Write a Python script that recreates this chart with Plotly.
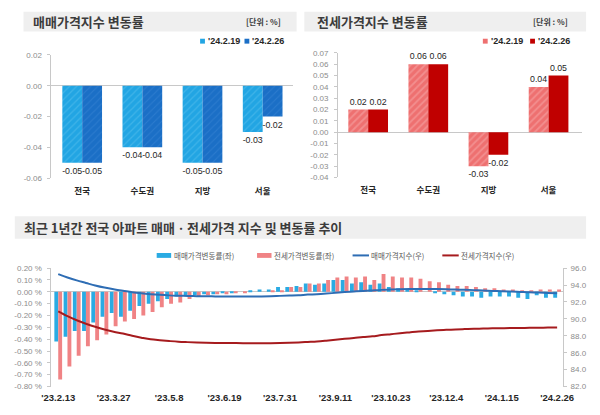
import plotly.graph_objects as go
import pandas as pd

# ---------------- data ----------------
regions = ["전국", "수도권", "지방", "서울"]
series_names = ["'24.2.19", "'24.2.26"]
sale_prev = [-0.05, -0.04, -0.05, -0.03]
sale_curr = [-0.05, -0.04, -0.05, -0.02]
jeonse_prev = [0.02, 0.06, -0.03, 0.04]
jeonse_curr = [0.02, 0.06, -0.02, 0.05]

weeks = pd.date_range("2023-02-13", "2024-02-26", freq="7D")
sale_rate = [-0.42, -0.38, -0.33, -0.33, -0.26, -0.21, -0.18, -0.21, -0.16, -0.12,
             -0.10, -0.08, -0.06, -0.04, -0.03, -0.03, -0.02, -0.02, -0.01, -0.01,
             0.00, 0.01, 0.02, 0.02, 0.04, 0.04, 0.05, 0.07, 0.06, 0.07,
             0.10, 0.10, 0.07, 0.08, 0.06, 0.07, 0.04, 0.03, 0.02, 0.01,
             0.00, -0.01, -0.02, -0.03, -0.04, -0.04, -0.05, -0.04, -0.04, -0.04,
             -0.05, -0.06, -0.03, -0.05, -0.05]
jeonse_rate = [-0.74, -0.63, -0.54, -0.46, -0.41, -0.36, -0.29, -0.25, -0.23, -0.20,
               -0.17, -0.13, -0.10, -0.09, -0.06, -0.04, -0.03, -0.02, -0.02, -0.01,
               -0.01, 0.00, 0.00, 0.01, 0.01, 0.04, 0.04, 0.07, 0.07, 0.10,
               0.12, 0.13, 0.12, 0.13, 0.10, 0.15, 0.13, 0.12, 0.12, 0.11,
               0.09, 0.08, 0.06, 0.05, 0.05, 0.04, 0.03, 0.03, 0.02, 0.02,
               0.01, 0.01, 0.02, 0.02, 0.02]
sale_index = [95.30, 94.90, 94.55, 94.25, 93.95, 93.70, 93.50, 93.33, 93.15, 93.02,
              92.92, 92.84, 92.78, 92.74, 92.71, 92.69, 92.67, 92.66, 92.65, 92.64,
              92.64, 92.65, 92.66, 92.68, 92.72, 92.76, 92.80, 92.87, 92.92, 92.99,
              93.08, 93.17, 93.24, 93.31, 93.37, 93.43, 93.47, 93.50, 93.52, 93.53,
              93.53, 93.52, 93.50, 93.47, 93.44, 93.40, 93.35, 93.31, 93.28, 93.24,
              93.19, 93.14, 93.11, 93.06, 93.02]
jeonse_index = [90.90, 90.33, 89.84, 89.43, 89.06, 88.74, 88.48, 88.26, 88.01, 87.78,
                87.58, 87.47, 87.38, 87.30, 87.25, 87.21, 87.18, 87.16, 87.15, 87.14,
                87.13, 87.13, 87.13, 87.13, 87.14, 87.17, 87.21, 87.27, 87.33, 87.42,
                87.52, 87.64, 87.74, 87.86, 87.94, 88.08, 88.19, 88.30, 88.40, 88.50,
                88.58, 88.65, 88.70, 88.75, 88.79, 88.83, 88.85, 88.88, 88.90, 88.92,
                88.93, 88.94, 88.96, 88.97, 88.99]

left_ticks_top = [0.02, 0.00, -0.02, -0.04, -0.06]
right_ticks_top = [0.07, 0.06, 0.05, 0.04, 0.03, 0.02, 0.01, 0.00, -0.01, -0.02, -0.03, -0.04]
rate_ticks = [0.20, 0.10, 0.00, -0.10, -0.20, -0.30, -0.40, -0.50, -0.60, -0.70, -0.80]
index_ticks = [82, 84, 86, 88, 90, 92, 94, 96]
legend_bottom = ["매매가격변동률(좌)", "전세가격변동률(좌)", "매매가격지수(우)", "전세가격지수(우)"]
titles = ["매매가격지수 변동률", "전세가격지수 변동률",
          "최근 1년간 전국 아파트 매매ㆍ전세가격 지수 및 변동률 추이"]
unit_text = "[단위 : %]"

# ---------------- style ----------------
W, H = 600, 415
FONT = "Liberation Sans, Noto Sans CJK KR, sans-serif"
KFONT = "Noto Sans CJK KR, sans-serif"
C_LBLUE, C_LBLUE_FG = "#22a5e3", "#5cc2ee"
C_DBLUE, C_DBLUE_FG = "#1b6fc6", "#3d88d6"
C_PINK, C_PINK_FG = "#ee7070", "#f7abab"
C_RED = "#c00000"
C_BAR_B, C_BAR_P = "#2aabe3", "#f08385"
C_LINE_B, C_LINE_R = "#2e6db4", "#a61b1e"
AX = "#c8c8c8"
TICKC = "#8c8c8c"
LABC = "#1e1e1e"
LABSIZE = 8.8


def px(x):
    return x / W


def py(y):
    return 1 - y / H


fig = go.Figure()

bw = 0.33


def region_bar(y, name, xa, ya, off, color, fg=None, solidity=0.25):
    marker = dict(color=color, line=dict(width=0))
    if fg:
        marker["pattern"] = dict(shape="/", bgcolor=color, fgcolor=fg, size=5, solidity=solidity)
    return go.Bar(x=regions, y=y, name=name, xaxis=xa, yaxis=ya, width=bw, offset=off,
                  marker=marker, text=[f"{v:.2f}" for v in y], textposition="outside",
                  textfont=dict(size=LABSIZE, color=LABC, family=FONT),
                  cliponaxis=False, constraintext="none", showlegend=False)


fig.add_trace(region_bar(sale_prev, series_names[0], "x", "y", -bw, C_LBLUE, C_LBLUE_FG, 0.25))
fig.add_trace(region_bar(sale_curr, series_names[1], "x", "y", 0, C_DBLUE, C_DBLUE_FG, 0.2))
fig.add_trace(region_bar(jeonse_prev, series_names[0], "x2", "y2", -bw, C_PINK, C_PINK_FG, 0.35))
fig.add_trace(region_bar(jeonse_curr, series_names[1], "x2", "y2", 0, C_RED))

# ---- bottom bars & lines
WEEK_MS = 7 * 24 * 3600 * 1000
bbw = 0.42 * WEEK_MS
fig.add_trace(go.Bar(x=weeks, y=sale_rate, name=legend_bottom[0], xaxis="x3", yaxis="y3",
                     width=bbw, offset=-bbw, marker=dict(color=C_BAR_B, line=dict(width=0)),
                     showlegend=False))
fig.add_trace(go.Bar(x=weeks, y=jeonse_rate, name=legend_bottom[1], xaxis="x3", yaxis="y3",
                     width=bbw, offset=0, marker=dict(color=C_BAR_P, line=dict(width=0)),
                     showlegend=False))
fig.add_trace(go.Scatter(x=weeks, y=sale_index, name=legend_bottom[2], xaxis="x3", yaxis="y4",
                         mode="lines", line=dict(color=C_LINE_B, width=2, shape="spline"),
                         showlegend=False))
fig.add_trace(go.Scatter(x=weeks, y=jeonse_index, name=legend_bottom[3], xaxis="x3", yaxis="y4",
                         mode="lines", line=dict(color=C_LINE_R, width=2, shape="spline"),
                         showlegend=False))

# ---------------- axes ----------------
xr3 = [weeks[0] - pd.Timedelta(days=0.73 * 7), weeks[-1] + pd.Timedelta(days=0.63 * 7)]
tick_weeks = list(weeks[::6])
tick_text = [f"'{d:%y}.{d.month}.{d.day}" for d in tick_weeks]

common_y = dict(showgrid=False, showline=True, linecolor=AX, linewidth=1, ticks="outside",
                ticklen=3, tickcolor=AX, zeroline=True, zerolinecolor=AX, zerolinewidth=1,
                tickfont=dict(size=8, color=TICKC, family=FONT), ticklabelstandoff=4)
cat_x = dict(type="category", showgrid=False, showline=False, zeroline=False, ticks="",
             tickfont=dict(size=8.5, color="#262626", family=KFONT, weight="bold"),
             ticklabelstandoff=6, fixedrange=True)

fig.update_layout(
    width=W, height=H, margin=dict(l=0, r=0, t=0, b=0),
    paper_bgcolor="white", plot_bgcolor="rgba(0,0,0,0)",
    showlegend=False, barmode="overlay",
    font=dict(family=FONT),
    xaxis=dict(domain=[px(43), px(293)], range=[-0.51, 3.5], anchor="y", **cat_x),
    yaxis=dict(domain=[py(178), py(52)], range=[-0.06, 0.02], anchor="x",
               tickvals=left_ticks_top, ticktext=[f"{v:.2f}" for v in left_ticks_top], **common_y),
    xaxis2=dict(domain=[px(340), px(593)], range=[-0.5, 3.56], anchor="y2", **cat_x),
    yaxis2=dict(domain=[py(177.3), py(50)], range=[-0.04, 0.07], anchor="x2",
                tickvals=right_ticks_top, ticktext=[f"{v:.2f}" for v in right_ticks_top], **common_y),
    xaxis3=dict(domain=[px(43), px(573)], range=xr3, anchor="y3", type="date",
                showgrid=False, showline=False, zeroline=False, ticks="",
                tickvals=tick_weeks, ticktext=tick_text, ticklabelstandoff=4,
                tickfont=dict(size=9.5, color="#262626", family=FONT, weight="bold")),
    xaxis4=dict(overlaying="x3", anchor="free", position=py(294.2), range=xr3, type="date",
                showgrid=False, showline=False, zeroline=False, ticks="outside", ticklen=2,
                tickcolor=AX, tick0=weeks[0], dtick=WEEK_MS, showticklabels=False),
    yaxis3=dict(domain=[py(391), py(270)], range=[-0.8, 0.2], anchor="x3",
                tickvals=rate_ticks, ticktext=[f"{v:.2f} %" for v in rate_ticks], **common_y),
    yaxis4=dict(overlaying="y3", side="right", anchor="x3", range=[82, 96],
                tickvals=index_ticks, ticktext=[f"{v:.1f}" for v in index_ticks],
                showgrid=False, showline=True, linecolor=AX, ticks="outside", ticklen=3,
                tickcolor=AX, zeroline=False, ticklabelstandoff=2,
                tickfont=dict(size=8, color=TICKC, family=FONT)),
)

# ---------------- title boxes, titles, legends ----------------
shapes = []
annots = []
for (x0, x1, y0, y1) in [(14, 297, 8, 28), (305, 597, 8, 28), (5, 597, 217, 240)]:
    shapes.append(dict(type="rect", xref="paper", yref="paper", x0=px(x0), x1=px(x1),
                       y0=py(y1), y1=py(y0), fillcolor="#efefef", line=dict(width=0),
                       layer="below"))
for t, (x, y) in zip(titles, [(22, 18), (316, 18), (12, 228.5)]):
    annots.append(dict(text=f"<b>{t}</b>", x=px(x), y=py(y), xref="paper", yref="paper",
                       xanchor="left", yanchor="middle", showarrow=False,
                       font=dict(size=13, color="#3c3c3c", family=KFONT)))
for x in [283, 580]:
    annots.append(dict(text=f"<b>{unit_text}</b>", x=px(x), y=py(18), xref="paper", yref="paper",
                       xanchor="right", yanchor="middle", showarrow=False,
                       font=dict(size=8, color="#3c3c3c", family=KFONT)))

# top legends
for xs, cols in [((197, 243), (C_LBLUE, C_DBLUE)), ((490, 539), (C_PINK, C_RED))]:
    for sx, col, name in zip(xs, cols, series_names):
        shapes.append(dict(type="rect", xref="paper", yref="paper", x0=px(sx), x1=px(sx + 5),
                           y0=py(40.5), y1=py(35.5), fillcolor=col, line=dict(width=0)))
        annots.append(dict(text=f"<b>{name}</b>", x=px(sx + 6), y=py(38), xref="paper",
                           yref="paper", xanchor="left", yanchor="middle", showarrow=False,
                           font=dict(size=9, color="#262626", family=FONT)))

# bottom legend
leg_items = [(152, C_BAR_B, "bar"), (256, C_BAR_P, "bar"), (355, C_LINE_B, "line"), (448, C_LINE_R, "line")]
for (sx, col, kind), name in zip(leg_items, legend_bottom):
    if kind == "bar":
        shapes.append(dict(type="rect", xref="paper", yref="paper", x0=px(sx), x1=px(sx + 15),
                           y0=py(259.5), y1=py(254.5), fillcolor=col, line=dict(width=0)))
    else:
        shapes.append(dict(type="line", xref="paper", yref="paper", x0=px(sx), x1=px(sx + 17),
                           y0=py(257), y1=py(257), line=dict(color=col, width=2)))
    annots.append(dict(text=name, x=px(sx + 17 if kind == "line" else sx + 16), y=py(257),
                       xref="paper", yref="paper", xanchor="left", yanchor="middle",
                       showarrow=False, font=dict(size=7.5, color="#595959", family=KFONT)))

fig.update_layout(shapes=shapes, annotations=annots)
fig.write_html("out.html", config={"displayModeBar": False},
               post_script="document.body.style.margin='0px';")
